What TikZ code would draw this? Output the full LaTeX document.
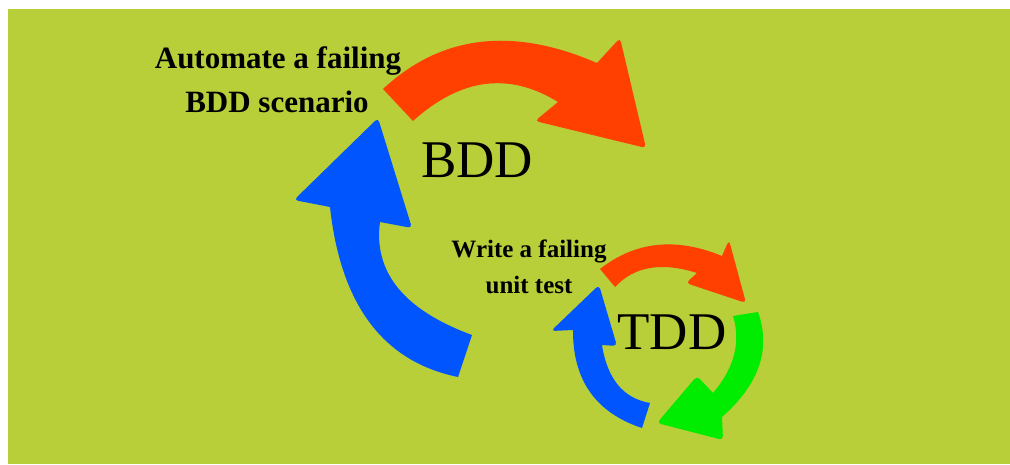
\documentclass[tikz,border=0pt]{standalone}
\usepackage{fontspec}
\setmainfont{Liberation Serif}
\definecolor{bgc}{RGB}{184,207,58}
\definecolor{redc}{RGB}{255,64,0}
\definecolor{bluec}{RGB}{0,85,255}
\definecolor{greenc}{RGB}{0,236,0}
\begin{document}
\begin{tikzpicture}[x=1pt,y=-1pt,
  lbl/.style={font=\bfseries\fontsize{31}{31}\selectfont, anchor=base, inner sep=0pt},
  small/.style={font=\bfseries\fontsize{25}{25}\selectfont, anchor=base, inner sep=0pt},
  big/.style={font=\fontsize{53}{53}\selectfont, anchor=base, inner sep=0pt},
  rc/.style={rounded corners=4pt}]
\useasboundingbox (0,0) rectangle (1010,464);
\fill[white] (0,0) rectangle (1010,464);
\fill[bgc] (8,9) rectangle (1010,464);

% big red arrow
\fill[redc] (413,121) -- (383,89)
  .. controls (441,35) and (512.3,26.3) .. (597,63)
  [rc] -- (620,38) -- (646,148) -- (535,121) [sharp corners] -- (558,102)
  .. controls (509,71.7) and (460.7,78) .. (413,121) -- cycle;

% big blue arrow
\fill[bluec] (472,335) -- (458,377)
  .. controls (383.3,361.7) and (340.7,305) .. (330,207)
  [rc] -- (294,200) -- (378,118) -- (412,228) [sharp corners] -- (380,222)
  .. controls (373.3,272.3) and (404,310) .. (472,335) -- cycle;

% small red arrow
\fill[redc] (615,287) -- (600,269)
  .. controls (635.3,241.3) and (676,237) .. (722,256)
  [rc] -- (729,240) -- (746,303) -- (686,283) [sharp corners] -- (697,273)
  .. controls (661.7,261.7) and (634.3,266.3) .. (615,287) -- cycle;

% green arrow
\fill[greenc] (733,316) -- (758,312)
  .. controls (771.3,349) and (759.3,384) .. (722,417)
  [rc] -- (723,440) -- (657,423) -- (697,376) [sharp corners] -- (713,393)
  .. controls (734.3,368) and (741,342.3) .. (733,316) -- cycle;

% small blue arrow
\fill[bluec] (650,403) -- (642,428)
  .. controls (595.7,412.7) and (572.7,380) .. (573,330)
  [rc] -- (551,331) -- (599,285) -- (617,346) [sharp corners] -- (602,345)
  .. controls (607.3,379) and (623.3,398.3) .. (650,403) -- cycle;

\node[lbl] (t1) at (278,68) {Automate a failing};
\node[lbl] (t2) at (277,112) {BDD scenario};
\node[big] (bdd) at (477,177) {BDD};
\node[small] (t3) at (529,257) {Write a failing};
\node[small] (t4) at (529,293) {unit test};
\node[big] (tdd) at (672,349) {TDD};
\end{tikzpicture}
\end{document}
